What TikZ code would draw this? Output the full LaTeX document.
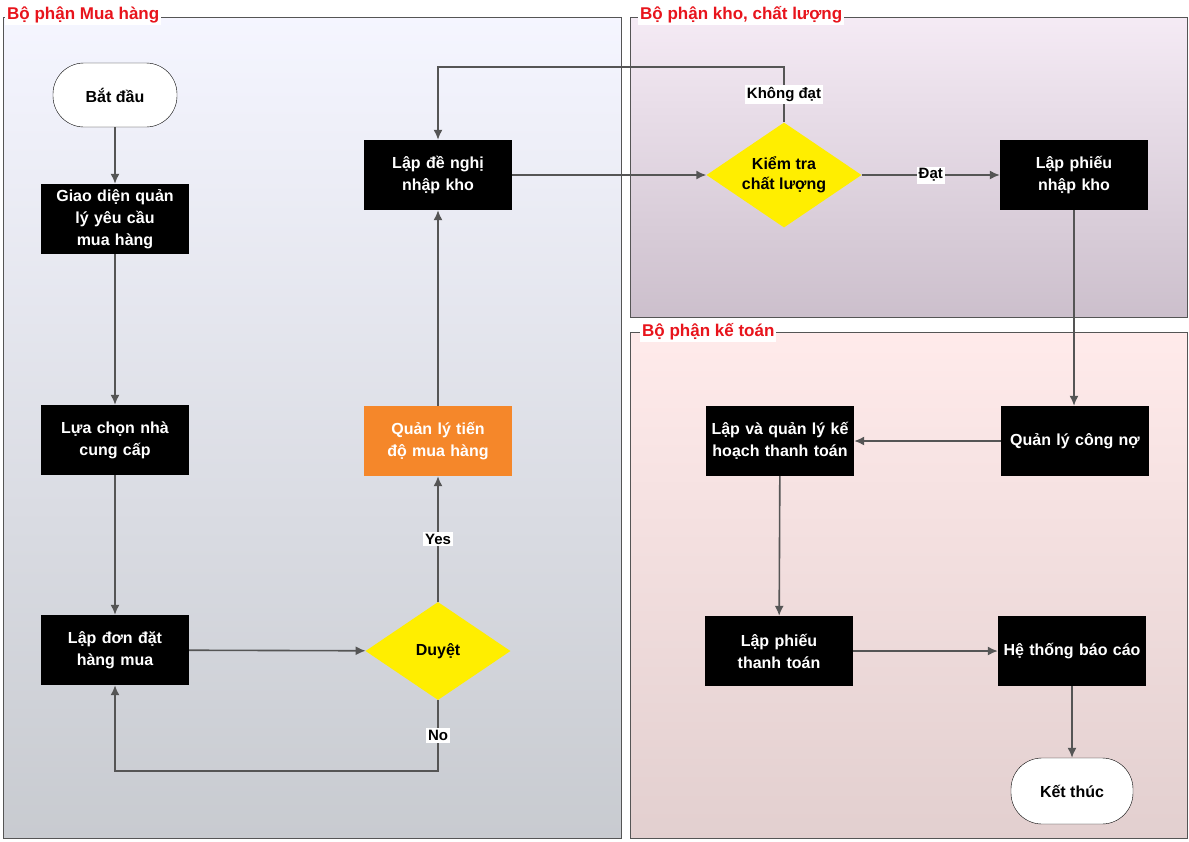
\documentclass[tikz,border=0pt]{standalone}
\usepackage{fontspec}
\setmainfont{Liberation Sans}
\usetikzlibrary{shapes.geometric,arrows.meta}
\definecolor{linegray}{HTML}{555555}
\definecolor{titlered}{HTML}{E8141C}
\definecolor{boxorange}{HTML}{F5872A}
\definecolor{diayellow}{HTML}{FFEE00}
\tikzset{
  box/.style={draw=none,fill=black,text=white,minimum width=148pt,minimum height=70pt,
    text width=140pt,align=center,font=\fontsize{16}{22}\selectfont\bfseries},
  term/.style={draw=black,fill=white,rounded corners=31pt,minimum width=124pt,minimum height=64pt,
    font=\fontsize{16}{20}\selectfont\bfseries},
  dec/.style={diamond,aspect=1.5,fill=diayellow,inner sep=1pt,align=center,
    font=\fontsize{16}{20}\selectfont\bfseries},
  lane/.style={draw=linegray,line width=0.6pt},
  title/.style={fill=white,text=titlered,anchor=west,inner sep=2pt,font=\fontsize{17}{20}\selectfont\bfseries},
  lbl/.style={fill=white,inner sep=2pt,font=\fontsize{15}{18}\selectfont\bfseries},
  flow/.style={draw=linegray,line width=1.6pt,-{Latex[length=10pt,width=9pt]}}
}
\begin{document}
\begin{tikzpicture}[x=1pt,y=-1pt]
\useasboundingbox (0,0) rectangle (1189,841);
% lanes
\shade[top color=cyan!6!blue!4,bottom color=cyan!35!blue!8!gray!40] (3,17) rectangle (621,838);
\draw[lane] (3,17) rectangle (621,838);
\shade[top color=violet!8,bottom color=violet!25!gray!40] (630,17) rectangle (1187,317);
\draw[lane] (630,17) rectangle (1187,317);
\shade[top color=red!8,bottom color=red!25!gray!30] (630,332) rectangle (1187,838);
\draw[lane] (630,332) rectangle (1187,838);
\node[title] (t1) at (5,15) {Bộ phận Mua hàng};
\node[title] (t2) at (638,15) {Bộ phận kho, chất lượng};
\node[title] (t3) at (640,332) {Bộ phận kế toán};
% nodes
\node[term] (start) at (115,95) {Bắt đầu};
\node[box] (giao) at (115,219) {Giao diện quản lý yêu cầu mua hàng};
\node[box] (chon) at (115,440) {Lựa chọn nhà cung cấp};
\node[box] (dondat) at (115,650) {Lập đơn đặt hàng mua};
\node[dec,minimum width=145pt,minimum height=98pt] (duyet) at (438,651) {Duyệt};
\node[box,fill=boxorange] (tiendo) at (438,441) {Quản lý tiến độ mua hàng};
\node[box] (denghi) at (438,175) {Lập đề nghị nhập kho};
\node[dec,minimum width=155pt,minimum height=105pt] (kiemtra) at (784,175) {Kiểm tra\\chất lượng};
\node[box] (phieunhap) at (1074,175) {Lập phiếu nhập kho};
\node[box] (congno) at (1075,441) {Quản lý công nợ};
\node[box] (kehoach) at (780,441) {Lập và quản lý kế hoạch thanh toán};
\node[box] (thanhtoan) at (779,651) {Lập phiếu thanh toán};
\node[box] (baocao) at (1072,651) {Hệ thống báo cáo};
\node[term,minimum width=122pt,minimum height=66pt] (ketthuc) at (1072,791) {Kết thúc};
% connectors
\draw[flow] (start) -- (giao);
\draw[flow] (giao) -- (chon);
\draw[flow] (chon) -- (dondat);
\draw[flow] (dondat) -- (duyet);
\draw[flow] (duyet) -- node[lbl] {Yes} (tiendo);
\draw[flow] (tiendo) -- (denghi);
\draw[flow] (denghi) -- (kiemtra);
\draw[flow] (kiemtra) -- node[lbl] {Đạt} (phieunhap);
\draw[flow] (kiemtra.north) -- node[lbl,pos=0.5] {Không đạt} (784,67) -| (denghi.north);
\draw[flow] (duyet.south) -- node[lbl,pos=0.5] {No} (438,771) -| (dondat.south);
\draw[flow] (phieunhap.south) -- (phieunhap.south |- congno.north);
\draw[flow] (congno) -- (kehoach);
\draw[flow] (kehoach) -- (thanhtoan);
\draw[flow] (thanhtoan) -- (baocao);
\draw[flow] (baocao) -- (ketthuc);
\end{tikzpicture}
\end{document}
